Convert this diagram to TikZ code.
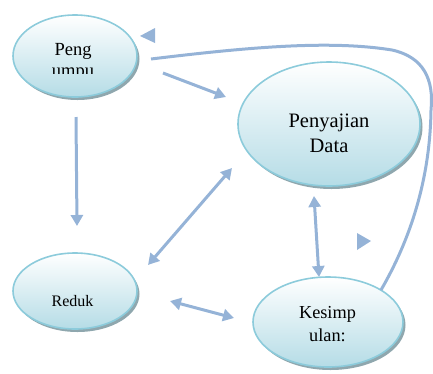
\documentclass[tikz,border=0pt]{standalone}
\usepackage{fontspec}
\setmainfont{Liberation Serif}
\usetikzlibrary{arrows.meta,shapes.geometric,shadows}
\definecolor{flow}{HTML}{95B3D7}
\definecolor{rim}{HTML}{8CCBDB}
\definecolor{bubblebot}{HTML}{B5DCE6}
\definecolor{shade}{HTML}{8FA7AE}
\begin{document}
\begin{tikzpicture}[x=1pt,y=-1pt,
  bub/.style={ellipse, draw=rim, line width=1.6pt, inner sep=0pt,
    top color=white, bottom color=bubblebot,
    drop shadow={shadow xshift=2.5pt, shadow yshift=-3pt, fill=shade, opacity=1}},
  lbl/.style={anchor=base, inner sep=0pt, align=center},
  conn/.style={draw=flow, line width=3pt},
  tip/.style={-{Triangle[width=12pt,length=11pt]}},
  tips/.style={{Triangle[width=12pt,length=11pt]}-{Triangle[width=12pt,length=11pt]}},
  loose/.style={fill=flow, draw=none}]
\useasboundingbox (0,0) rectangle (433,373);

% ellipses
\node[bub, minimum width=124pt, minimum height=82pt] (peng) at (75,56) {};
\node[bub, minimum width=182pt, minimum height=124pt] (saji) at (329,124) {};
\node[bub, minimum width=124pt, minimum height=76pt] (red) at (75,291) {};
\node[bub, minimum width=150pt, minimum height=90pt] (kes) at (328,322) {};

% labels (base anchor sits on the last line)
\begin{scope}
  \clip (20,20) rectangle (130,73);
  \node[lbl, font=\fontsize{18.5}{21}\selectfont] (tpeng) at (73,76) {Peng\\umpu};
\end{scope}
\node[lbl, font=\fontsize{20.5}{25}\selectfont] (tsaji) at (329,152) {Penyajian\\Data};
\node[lbl, font=\fontsize{16}{19}\selectfont] (tred) at (72.5,306) {Reduk};
\node[lbl, font=\fontsize{18.3}{23}\selectfont] (tkes) at (327.5,341) {Kesimp\\ulan:};

% connector end points
\coordinate (p1) at (76,117);
\coordinate (r1) at (77,226);
\coordinate (p2) at (163,73);
\coordinate (s1) at (226,97);
\coordinate (s2) at (232,168);
\coordinate (r2) at (148,265);
\coordinate (r3) at (170,301);
\coordinate (k1) at (234,318);
\coordinate (s3) at (314,196);
\coordinate (k2) at (319,277);
\coordinate (p3) at (151,59);
\coordinate (top) at (392,50);
\coordinate (side) at (431,110);
\coordinate (k3) at (381,290);

% connectors
\draw[conn, tip] (p1) -- (r1);
\draw[conn, tip] (p2) -- (s1);
\draw[conn, tips] (s2) -- (r2);
\draw[conn, tips] (r3) -- (k1);
\draw[conn, tips] (s3) -- (k2);
\draw[conn] (p3) .. controls (250,47) and (330,40) .. (top)
            .. controls (424,57) and (434,80) .. (side)
            .. controls (430,180) and (410,240) .. (k3);

% detached arrow heads
\fill[loose] (140,36) -- (155,28) -- (155,43) -- cycle;
\fill[loose] (371,241) -- (357,233) -- (357,250) -- cycle;
\end{tikzpicture}
\end{document}
